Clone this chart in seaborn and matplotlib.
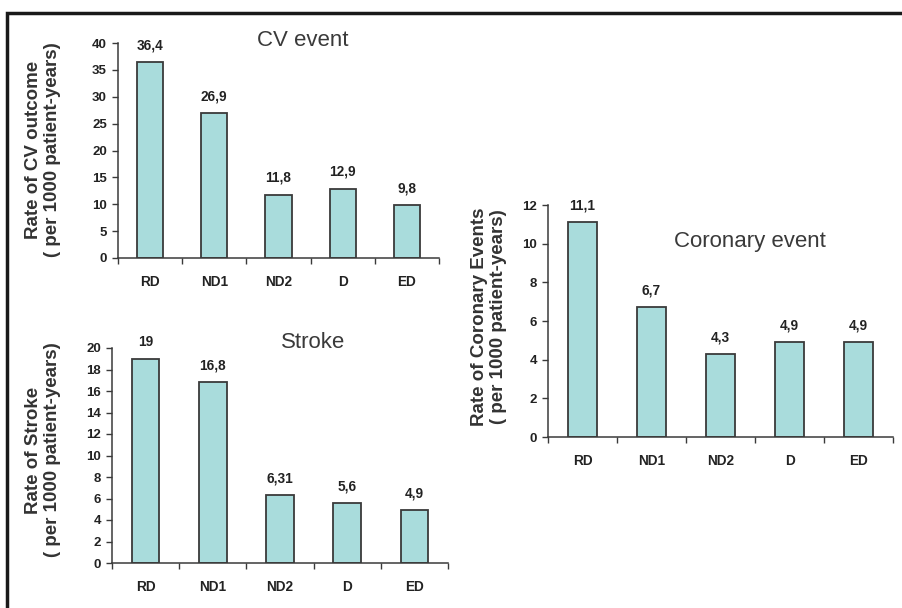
import numpy as np
import pandas as pd
import seaborn as sns
import matplotlib.pyplot as plt
from matplotlib.patches import Rectangle

# data
groups = ["RD", "ND1", "ND2", "D", "ED"]
cv_rates = [36.4, 26.9, 11.8, 12.9, 9.8]
cv_labels = ["36,4", "26,9", "11,8", "12,9", "9,8"]
stroke_rates = [19, 16.8, 6.31, 5.6, 4.9]
stroke_labels = ["19", "16,8", "6,31", "5,6", "4,9"]
coronary_rates = [11.1, 6.7, 4.3, 4.9, 4.9]
coronary_labels = ["11,1", "6,7", "4,3", "4,9", "4,9"]

W, H = 903, 608
bar_color = "#a9dcdc"
edge_color = "#3a3a3a"

sns.set_theme(style="white")
plt.rcParams["font.family"] = ["Liberation Sans", "DejaVu Sans"]

fig = plt.figure(figsize=(W / 100, H / 100), dpi=100)
fig.patch.set_facecolor("white")

# outer frame
fig.add_artist(Rectangle((7 / W, -0.1), 1.2, (H - 13) / H + 0.1,
                         transform=fig.transFigure, fill=False,
                         edgecolor="#1a1a1a", linewidth=2.5))


def px_axes(left, right, top, bottom):
    return fig.add_axes([left / W, (H - bottom) / H,
                         (right - left) / W, (bottom - top) / H])


def panel(ax, values, labels, ymax, ystep, title, title_xy, ylab, ylab_x):
    df = pd.DataFrame({"group": groups, "rate": values})
    sns.barplot(data=df, x="group", y="rate", color=bar_color, saturation=1,
                edgecolor=edge_color, linewidth=1.3, width=0.41, ax=ax)
    ax.set_xlim(-0.5, 4.5)
    ax.set_ylim(0, ymax)
    ax.set_yticks(np.arange(0, ymax + 0.01, ystep))
    ax.set_xticks(range(5))
    ax.set_xticks(np.arange(-0.5, 5, 1), minor=True)
    ax.tick_params(axis="x", which="major", bottom=False, pad=6,
                   labelsize=9.8, labelcolor="#222222")
    ax.tick_params(axis="x", which="minor", bottom=True, length=4, width=1,
                   color=edge_color, direction="out")
    ax.tick_params(axis="y", left=True, length=4, width=1, color=edge_color,
                   direction="out", labelsize=9.5, labelcolor="#222222", pad=4)
    for t in ax.get_xticklabels() + ax.get_yticklabels():
        t.set_fontweight("bold")
    for s in ["top", "right"]:
        ax.spines[s].set_visible(False)
    for s in ["left", "bottom"]:
        ax.spines[s].set_color(edge_color)
        ax.spines[s].set_linewidth(1.1)
    ax.set_xlabel("")
    ax.set_ylabel("")
    for i, (v, lab) in enumerate(zip(values, labels)):
        ax.annotate(lab, (i, v), xytext=(0, 7), textcoords="offset points",
                    ha="center", va="bottom", fontsize=9.8,
                    fontweight="bold", color="#222222")
    fig.text(title_xy[0] / W, 1 - title_xy[1] / H, title, ha="center",
             va="center", fontsize=16, color="#3a3a3a")
    fig.text(ylab_x / W, 1 - ylab[2] / H, ylab[0] + "\n" + ylab[1],
             rotation=90, ha="center", va="center", fontsize=13.5,
             fontweight="bold", color="#333333", linespacing=1.1)


ax1 = px_axes(118, 439, 43, 258)
panel(ax1, cv_rates, cv_labels, 40, 5, "CV event", (303, 40),
      ("Rate of CV outcome", "( per 1000 patient-years)", 150), 43)

ax2 = px_axes(112, 448, 348, 563)
panel(ax2, stroke_rates, stroke_labels, 20, 2, "Stroke", (313, 343),
      ("Rate of Stroke", "( per 1000 patient-years)", 450), 43)

ax3 = px_axes(548, 893, 205, 437)
panel(ax3, coronary_rates, coronary_labels, 12, 2, "Coronary event", (750, 242),
      ("Rate of Coronary Events", "( per 1000 patient-years)", 317), 489)

fig.savefig("out.png", dpi=100)
